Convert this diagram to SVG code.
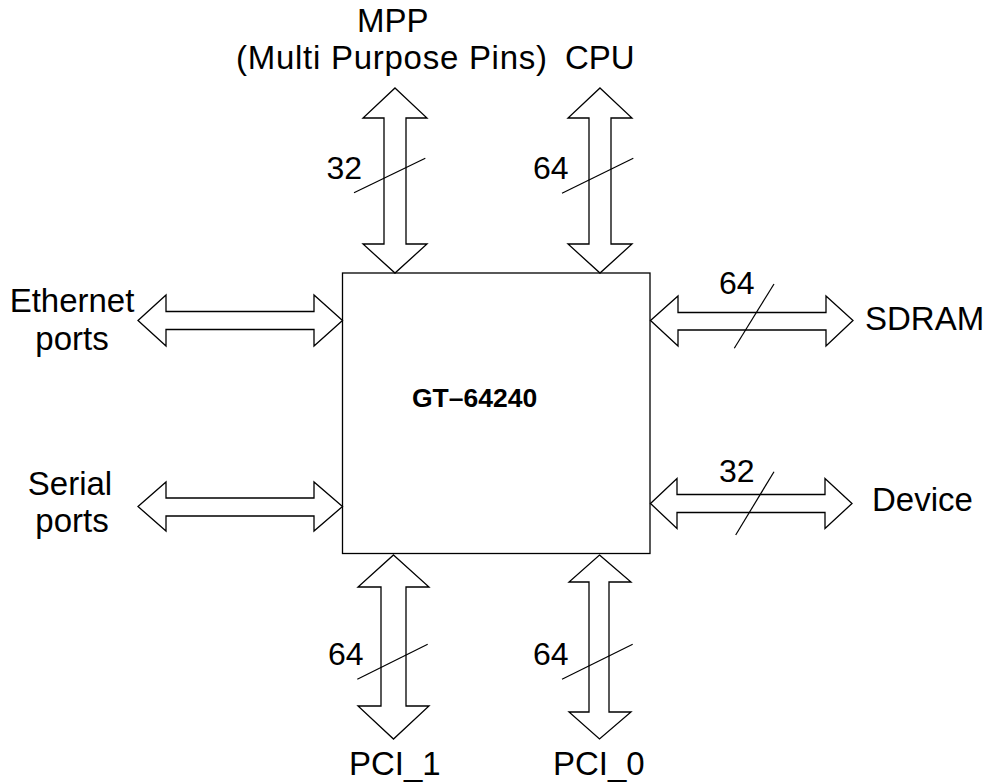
<svg xmlns="http://www.w3.org/2000/svg" width="986" height="783" viewBox="0 0 986 783">
<style>
.bus{fill:#fff;stroke:#000;stroke-width:1.3;stroke-linejoin:miter}
.sl{stroke:#000;stroke-width:1.2;fill:none}
.t{font-family:"Liberation Sans",Arial,sans-serif;font-size:33px;fill:#000}
.n{font-family:"Liberation Sans",Arial,sans-serif;font-size:32px;fill:#000}
.b{font-family:"Liberation Sans",Arial,sans-serif;font-size:26.5px;font-weight:bold;fill:#000}
</style>
<rect width="986" height="783" fill="#fff"/>
<g id="chip">
<rect x="342.5" y="273" width="307.5" height="280.5" fill="#fff" stroke="#000" stroke-width="1.3"/>
<text class="b" x="412" y="407">GT–64240</text>
</g>
<g id="connectors">
<polygon class="bus" points="395,88 427,118 406,118 406,244 427,244 395,273 363,244 384,244 384,118 363,118"/>
<polygon class="bus" points="600,88 632,118 611,118 611,244 632,244 600,273 568,244 589,244 589,118 568,118"/>
<polygon class="bus" points="138,320.5 166,295 166,311.5 314,311.5 314,295 342.5,320.5 314,346 314,329.5 166,329.5 166,346"/>
<polygon class="bus" points="138,506.5 166,482 166,498 314,498 314,482 342.5,506.5 314,531 314,516 166,516 166,531"/>
<polygon class="bus" points="650.5,320.5 678,296 678,312.5 826,312.5 826,296 853,320.5 826,346 826,330 678,330 678,346"/>
<polygon class="bus" points="650.5,503.5 677,478.5 677,494.5 825,494.5 825,478.5 852,503.5 825,528.5 825,512.5 677,512.5 677,528.5"/>
<polygon class="bus" points="393.5,555 429,587 406,587 406,706 429,706 393.5,739 358,706 381,706 381,587 358,587"/>
<polygon class="bus" points="599.5,555 631,582 609,582 609,712 631,712 599.5,739 569,712 589,712 589,582 569,582"/>
<line class="sl" x1="354" y1="192.7" x2="425.3" y2="158.3"/>
<line class="sl" x1="562" y1="193.3" x2="633.3" y2="158.3"/>
<line class="sl" x1="734.3" y1="348.3" x2="774" y2="284"/>
<line class="sl" x1="735.7" y1="535" x2="774" y2="471.7"/>
<line class="sl" x1="357.3" y1="679.3" x2="427.7" y2="644.3"/>
<line class="sl" x1="562" y1="679.3" x2="632.7" y2="644.3"/>
<text class="n" x="326.5" y="179">32</text>
<text class="n" x="533" y="179">64</text>
<text class="n" x="719" y="294">64</text>
<text class="n" x="719" y="481.7">32</text>
<text class="n" x="328" y="665">64</text>
<text class="n" x="533" y="665">64</text>
</g>
<g id="mpp">
<text class="t" x="357" y="32">MPP</text>
<text class="t" x="236" y="69" textLength="311" lengthAdjust="spacing">(Multi Purpose Pins)</text>
</g>
<g id="cpu"><text class="t" x="565" y="69">CPU</text></g>
<g id="ethernet">
<text class="t" x="72" y="311.5" text-anchor="middle">Ethernet</text>
<text class="t" x="72" y="350" text-anchor="middle">ports</text>
</g>
<g id="serial">
<text class="t" x="70" y="495" text-anchor="middle">Serial</text>
<text class="t" x="72" y="532" text-anchor="middle">ports</text>
</g>
<g id="sdram"><text class="t" x="865" y="330">SDRAM</text></g>
<g id="device"><text class="t" x="872" y="510.5">Device</text></g>
<g id="pci1"><text class="t" x="349" y="775">PCI_1</text></g>
<g id="pci0"><text class="t" x="553" y="775">PCI_0</text></g>
</svg>
